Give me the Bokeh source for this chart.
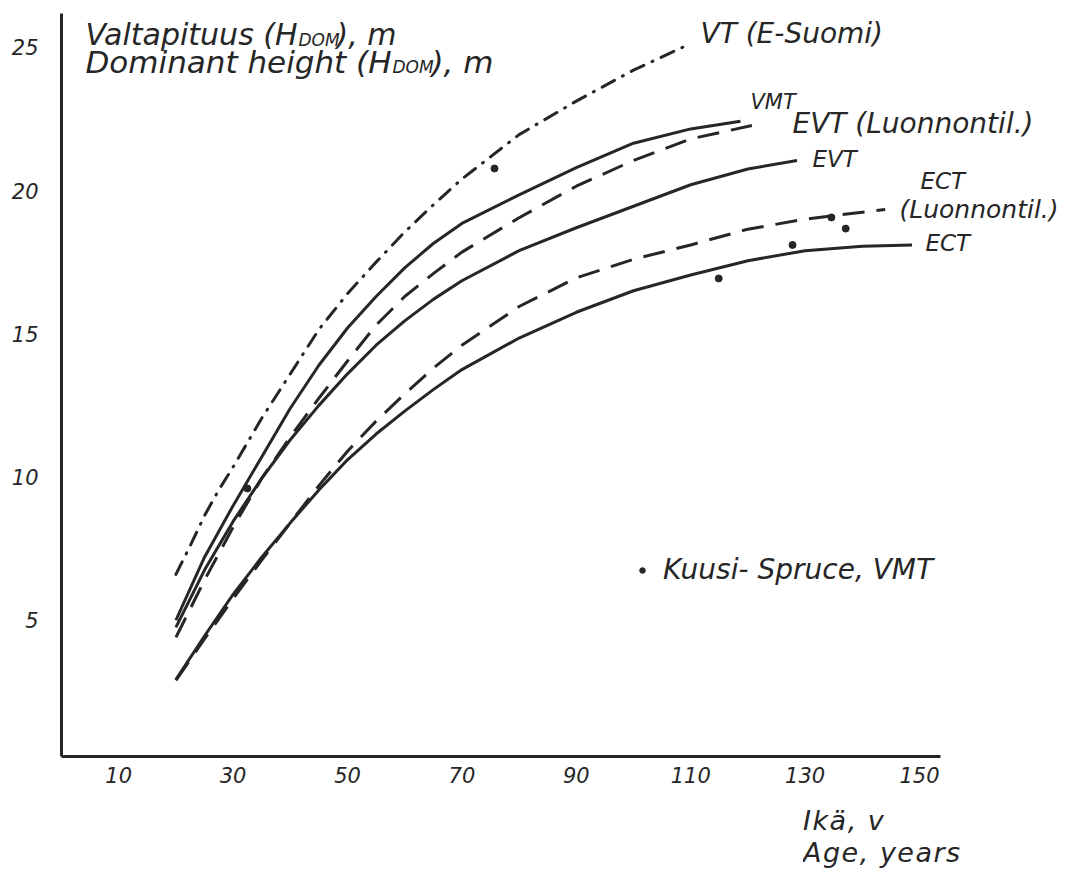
from bokeh.plotting import figure
from bokeh.layouts import column
from bokeh.models import Label, Legend, LegendItem, FixedTicker, Range1d, Div
from bokeh.embed import file_html
from bokeh.resources import INLINE

# ---- data ----
x_ticks = [10, 30, 50, 70, 90, 110, 130, 150]
y_ticks = [5, 10, 15, 20, 25]

vt_age = [20, 22.5, 25, 27.5, 30, 35, 40, 45, 50, 55, 60, 65, 70, 80, 90, 100, 110]
vt_h = [6.6, 7.6, 8.65, 9.55, 10.35, 12.05, 13.6, 15.15, 16.4, 17.5, 18.55, 19.5, 20.4, 21.95, 23.12, 24.2, 25.13]

vmt_age = [20, 25, 30, 35, 40, 45, 50, 55, 60, 65, 70, 80, 90, 100, 110, 118.7]
vmt_h = [5.0, 7.2, 9.0, 10.7, 12.4, 13.9, 15.2, 16.3, 17.3, 18.15, 18.85, 19.85, 20.8, 21.65, 22.15, 22.42]

evtl_age = [20, 25, 30, 35, 40, 45, 50, 55, 60, 65, 70, 80, 90, 100, 110, 120.7]
evtl_h = [4.4, 6.4, 8.25, 9.95, 11.4, 12.75, 14.05, 15.3, 16.3, 17.1, 17.85, 19.05, 20.15, 21.05, 21.8, 22.27]

evt_age = [20, 25, 30, 35, 40, 45, 50, 55, 60, 65, 70, 80, 90, 100, 110, 120, 128.6]
evt_h = [4.75, 6.75, 8.45, 9.95, 11.3, 12.5, 13.6, 14.6, 15.45, 16.2, 16.85, 17.9, 18.7, 19.45, 20.2, 20.75, 21.05]

ectl_age = [20, 25, 30, 35, 40, 45, 50, 55, 60, 65, 70, 80, 90, 100, 110, 120, 130, 144]
ectl_h = [2.9, 4.35, 5.75, 7.1, 8.4, 9.7, 10.9, 11.95, 12.9, 13.8, 14.6, 15.95, 16.95, 17.6, 18.1, 18.65, 19.0, 19.34]

ect_age = [20, 25, 30, 35, 40, 45, 50, 55, 60, 65, 70, 80, 90, 100, 110, 120, 130, 140, 148.7]
ect_h = [2.93, 4.45, 5.9, 7.2, 8.4, 9.55, 10.6, 11.5, 12.3, 13.05, 13.75, 14.85, 15.75, 16.5, 17.05, 17.55, 17.9, 18.05, 18.1]

spruce_age = [32.5, 75.7, 114.9, 127.8, 134.6, 137.1]
spruce_h = [9.6, 20.77, 16.93, 18.1, 19.06, 18.67]

INK = "#262626"
FONT = "DejaVu Sans"

# ---- layout (page px; canvas starts at page 0,0) ----
W, H = 1060, 805
DIV_H = 64
PX_PER_YEAR = 5.72
PX_PER_M = 28.65
X0_PAGE = 61      # age 0
Y0_PAGE = 763     # height 0
FR_L, FR_B = 61, 756          # frame left / bottom (axis lines)
AX_RIGHT, AX_TOP = 940, 13    # where the axis lines end

x_start = (FR_L - X0_PAGE) / PX_PER_YEAR
x_end = (W - X0_PAGE) / PX_PER_YEAR
y_start = (Y0_PAGE - FR_B) / PX_PER_M
y_end = (Y0_PAGE - 0) / PX_PER_M

p = figure(width=W, height=H,
           x_range=Range1d(x_start, x_end), y_range=Range1d(y_start, y_end),
           output_backend="svg", toolbar_location=None,
           min_border_left=FR_L, min_border_right=0,
           min_border_top=0, min_border_bottom=H - FR_B)
p.title = None
p.outline_line_color = None
p.xgrid.grid_line_color = None
p.ygrid.grid_line_color = None
p.background_fill_color = "white"
p.border_fill_color = "white"

for ax in (p.xaxis[0], p.yaxis[0]):
    ax.axis_line_width = 3
    ax.axis_line_color = INK
    ax.major_tick_line_color = None
    ax.minor_tick_line_color = None
    ax.major_tick_out = 0
    ax.major_tick_in = 0
    ax.minor_tick_out = 0
    ax.minor_tick_in = 0
    ax.major_label_text_font = FONT
    ax.major_label_text_font_style = "italic"
    ax.major_label_text_font_size = "21px"
    ax.major_label_text_color = INK
p.xaxis.ticker = FixedTicker(ticks=x_ticks)
p.yaxis.ticker = FixedTicker(ticks=y_ticks)
p.xaxis.bounds = (x_start, (AX_RIGHT - X0_PAGE) / PX_PER_YEAR)
p.yaxis.bounds = (y_start, (Y0_PAGE - AX_TOP) / PX_PER_M)
p.xaxis.major_label_standoff = 10
p.yaxis.major_label_standoff = 23

# ---- curves ----
p.line(vt_age, vt_h, line_color=INK, line_width=3, line_dash="14 9 1 9", line_cap="round")
p.line(vmt_age, vmt_h, line_color=INK, line_width=3)
p.line(evtl_age, evtl_h, line_color=INK, line_width=3, line_dash="22 12")
p.line(evt_age, evt_h, line_color=INK, line_width=3)
p.line(ectl_age, ectl_h, line_color=INK, line_width=3, line_dash="22 12")
p.line(ect_age, ect_h, line_color=INK, line_width=3)

r_sp = p.scatter(spruce_age, spruce_h, size=7, color=INK)

legend = Legend(items=[LegendItem(label="Kuusi- Spruce, VMT", renderers=[r_sp])],
                location=(574, 170), border_line_color=None, background_fill_alpha=0,
                padding=0, margin=0, glyph_width=14, glyph_height=28, label_height=28,
                label_standoff=14, label_text_font=FONT, label_text_font_style="italic",
                label_text_font_size="28px", label_text_color=INK)
p.add_layout(legend)


def to_data(px, py):
    return (px - X0_PAGE) / PX_PER_YEAR, (Y0_PAGE - py) / PX_PER_M


texts = [
    ("Valtapituus (H", 85, 34, 30),
    ("DOM", 298, 39, 17),
    ("), m", 336, 34, 30),
    ("Dominant height (H", 85, 61, 31),
    ("DOM", 392, 66, 17),
    ("), m", 431, 61, 31),
    ("VT (E-Suomi)", 700, 33, 28),
    ("VMT", 750, 101, 21),
    ("EVT (Luonnontil.)", 792, 123, 28),
    ("EVT", 812, 158, 23),
    ("ECT", 920, 180, 23),
    ("(Luonnontil.)", 899, 209, 25),
    ("ECT", 925, 242, 23),
]
for t, px, py, fs in texts:
    x, y = to_data(px, py)
    p.add_layout(Label(x=x, y=y, text=t, text_font=FONT, text_font_style="italic",
                       text_font_size=f"{fs}px", text_baseline="middle", text_align="left",
                       text_color=INK))

x_title = ["Ikä, v", "Age, years"]
div = Div(text=("<div style=\"margin-left:803px; font-family:'DejaVu Sans'; font-style:italic; "
                "font-size:27px; line-height:32px; letter-spacing:1.5px; color:#262626; "
                "white-space:nowrap; height:64px; overflow:hidden;\">"
                + "<br>".join(x_title) + "</div>"),
          width=W, height=DIV_H, margin=(0, 0, 0, 0))

layout = column(p, div, spacing=0)
open("out.html", "w").write(file_html(layout, INLINE))
